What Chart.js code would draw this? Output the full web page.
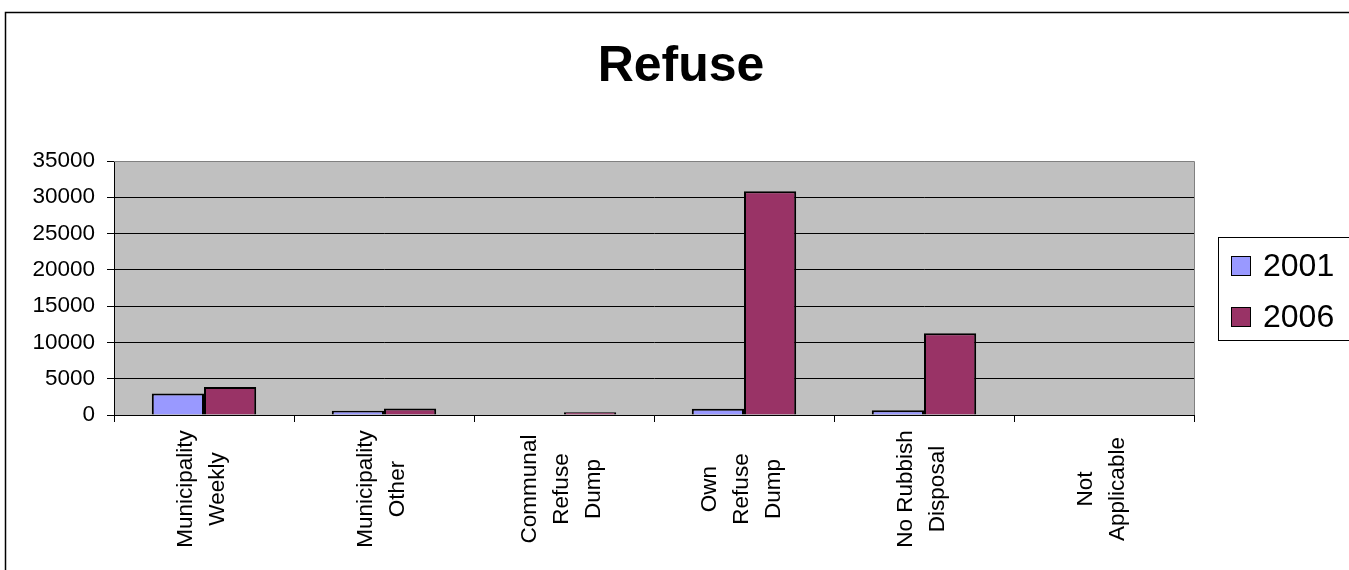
<!DOCTYPE html>
<html>
<head>
<meta charset="utf-8">
<script src="https://cdn.jsdelivr.net/npm/chart.js@4/dist/chart.umd.min.js"></script>
<style>
    html, body { margin: 0; padding: 0; background: #fff; }
    #wrap { position: relative; width: 1349px; height: 570px; }
</style>
</head>
<body>
<div id="wrap"><canvas id="refuseChart"></canvas></div>
<script>
const chartTitle = 'Refuse';
const categories = [
    ['Municipality', 'Weekly'],
    ['Municipality', 'Other'],
    ['Communal', 'Refuse', 'Dump'],
    ['Own', 'Refuse', 'Dump'],
    ['No Rubbish', 'Disposal'],
    ['Not', 'Applicable']
];
const seriesNames = ['2001', '2006'];
const values2001 = [2950, 600, 0, 870, 650, 0];
const values2006 = [3850, 880, 380, 30830, 11260, 0];
const yMin = 0;
const yMax = 35000;
const yStep = 5000;

const FONT = '"Liberation Sans", Arial, sans-serif';

// plot background, plot border, outer frame, title
const framePlugin = {
    id: 'frame',
    beforeDraw(chart) {
        const { ctx, chartArea: a } = chart;
        ctx.save();
        ctx.fillStyle = '#C0C0C0';
        ctx.fillRect(a.left, a.top, a.right - a.left, a.bottom - a.top);
        ctx.restore();
    },
    afterDraw(chart) {
        const { ctx, chartArea: a } = chart;
        ctx.save();
        ctx.strokeStyle = '#808080';
        ctx.lineWidth = 1;
        ctx.beginPath();
        ctx.moveTo(a.left, a.top + 0.5);
        ctx.lineTo(a.right + 0.5, a.top + 0.5);
        ctx.lineTo(a.right + 0.5, a.bottom);
        ctx.stroke();
        ctx.strokeStyle = '#000';
        ctx.lineWidth = 1.5;
        ctx.strokeRect(5.5, 12.5, 2000, 2000);

        ctx.fillStyle = '#000';
        ctx.font = 'bold 50px ' + FONT;
        ctx.textAlign = 'center';
        ctx.textBaseline = 'alphabetic';
        ctx.fillText(chartTitle, 681, 81);
        ctx.restore();
    }
};

// rotated, centred multi-line category labels
const xLabelPlugin = {
    id: 'xLabels',
    afterDraw(chart) {
        const { ctx } = chart;
        const xs = chart.scales.x;
        const lineGap = 32;
        const midY = 489;
        ctx.save();
        ctx.fillStyle = '#000';
        ctx.font = '22.5px ' + FONT;
        ctx.textAlign = 'center';
        ctx.textBaseline = 'middle';
        chart.data.labels.forEach((lines, i) => {
            const cx = xs.getPixelForValue(i) - 2.5;
            lines.forEach((line, j) => {
                const off = (j - (lines.length - 1) / 2) * lineGap;
                ctx.save();
                ctx.translate(cx + off, midY);
                ctx.rotate(-Math.PI / 2);
                ctx.fillText(line, 0, 0);
                ctx.restore();
            });
        });
        ctx.restore();
    }
};

// Excel style boxed legend on the right
const legendPlugin = {
    id: 'boxLegend',
    afterDraw(chart) {
        const { ctx } = chart;
        const left = 1218, top = 237, rowGap = 51;
        ctx.save();
        ctx.strokeStyle = '#000';
        ctx.lineWidth = 1;
        ctx.fillStyle = '#fff';
        ctx.fillRect(left + 0.5, top + 0.5, 300, 103);
        ctx.strokeRect(left + 0.5, top + 0.5, 300, 103);
        ctx.font = '32px ' + FONT;
        ctx.textBaseline = 'middle';
        ctx.textAlign = 'left';
        chart.data.datasets.forEach((ds, i) => {
            const cy = top + 29 + i * rowGap;
            ctx.fillStyle = ds.backgroundColor;
            ctx.fillRect(left + 13, cy - 10, 20, 20);
            ctx.strokeRect(left + 13.5, cy - 9.5, 19, 19);
            ctx.fillStyle = '#000';
            ctx.fillText(ds.label, left + 45, cy + 1);
        });
        ctx.restore();
    }
};

new Chart(document.getElementById('refuseChart'), {
    type: 'bar',
    data: {
        labels: categories,
        datasets: [
            {
                label: seriesNames[0],
                data: values2001,
                backgroundColor: '#9999FF',
                borderColor: '#000',
                borderWidth: 2
            },
            {
                label: seriesNames[1],
                data: values2006,
                backgroundColor: '#993366',
                borderColor: '#000',
                borderWidth: 2
            }
        ]
    },
    options: {
        responsive: true,
        maintainAspectRatio: false,
        animation: false,
        devicePixelRatio: 1,
        layout: { padding: { left: 20, right: 155, top: 161, bottom: 0 } },
        datasets: {
            bar: { barPercentage: 1, categoryPercentage: 0.58 }
        },
        plugins: {
            legend: { display: false },
            tooltip: { enabled: false },
            title: { display: false }
        },
        scales: {
            x: {
                ticks: { display: false },
                grid: {
                    drawOnChartArea: false,
                    drawTicks: true,
                    tickLength: 7,
                    color: '#000',
                    offset: true
                },
                border: { display: true, color: '#000', width: 1 },
                afterFit(scale) { scale.height = 155; }
            },
            y: {
                min: yMin,
                max: yMax,
                ticks: {
                    stepSize: yStep,
                    padding: 12,
                    color: '#000',
                    font: { family: FONT, size: 22.5 },
                    callback: (v) => String(v)
                },
                grid: {
                    color: (c) => (c.tick && c.tick.value === yMax ? '#808080' : '#000'),
                    lineWidth: 1,
                    tickLength: 7,
                    tickColor: '#000'
                },
                border: { display: true, color: '#000', width: 1 },
                afterFit(scale) { scale.width = 94; }
            }
        }
    },
    plugins: [framePlugin, xLabelPlugin, legendPlugin]
});
</script>
</body>
</html>
